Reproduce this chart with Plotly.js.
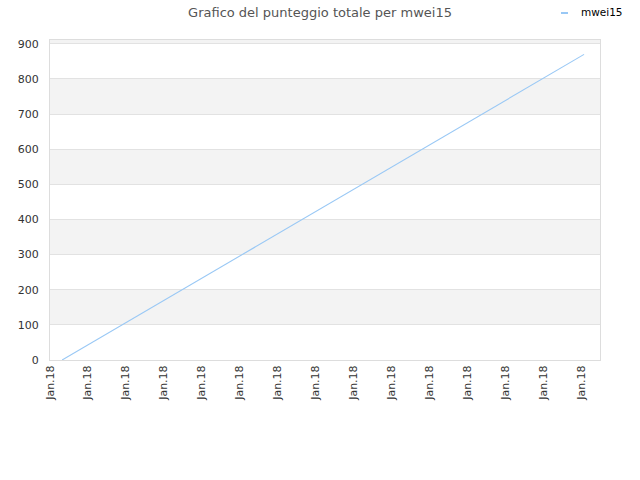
<!DOCTYPE html>
<html><head><meta charset="utf-8">
<script src="https://cdn.plot.ly/plotly-3.0.1.min.js"></script>
<style>body{margin:0}#c{width:640px;height:480px}</style>
</head><body><div id="c"></div>
<script>
var seriesName = "mwei15";
var xPos = [0.32, 1, 2, 3, 4, 5, 6, 7, 8, 9, 10, 11, 12, 13, 14, 14.08];
var scores = [0, 43, 107, 170, 233, 296, 359, 423, 486, 549, 612, 675, 739, 802, 865, 870];
var tickPos = [0,1,2,3,4,5,6,7,8,9,10,11,12,13,14];
var tickLabels = tickPos.map(function(){return "Jan.18";});
var yTicks = [0,100,200,300,400,500,600,700,800,900];
var lineColor = '#99c8f5';

var bands = [[100,200],[300,400],[500,600],[700,800],[900,911]];
var shapes = bands.map(function(b){
  return {type:'rect', xref:'paper', yref:'y', x0:0, x1:1, y0:b[0], y1:b[1],
    fillcolor:'#f3f3f3', line:{width:0}, layer:'below'};
});
// legend sample line
shapes.push({type:'line', xref:'paper', yref:'paper', x0:(561-50)/550, x1:(568-50)/550,
  y0:(360-13)/320, y1:(360-13)/320, line:{color:lineColor, width:2}});

var trace = {x:xPos, y:scores, type:'scatter', mode:'lines', name:seriesName,
  line:{color:lineColor, width:1.1}};

var layout = {
  width:640, height:480,
  margin:{l:50, r:40, t:40, b:120},
  paper_bgcolor:'#fff', plot_bgcolor:'#fff',
  font:{family:'DejaVu Sans, sans-serif', size:11, color:'#333'},
  title:{text:'Grafico del punteggio totale per mwei15', x:0.5, xanchor:'center', y:0.983, yanchor:'top',
    font:{size:13, color:'#555'}},
  showlegend:false,
  annotations:[{text:seriesName, xref:'paper', yref:'paper', x:(579-50)/550, y:(360-12)/320,
    xanchor:'left', yanchor:'middle', showarrow:false, font:{size:10.5, color:'#000'}}],
  xaxis:{range:[0,14.5], tickmode:'array', tickvals:tickPos, ticktext:tickLabels, tickangle:-90,
    showgrid:false, zeroline:false, showline:true, linecolor:'#dddddd', mirror:true,
    ticks:'', tickfont:{size:11, color:'#333'}},
  yaxis:{range:[0,911], tickmode:'array', tickvals:yTicks, showgrid:true, gridcolor:'#e2e2e2',
    zeroline:false, showline:true, linecolor:'#dddddd', mirror:true, ticks:'', ticklabelstandoff:8,
    tickfont:{size:11, color:'#333'}},
  shapes:shapes
};
Plotly.newPlot('c', [trace], layout, {displayModeBar:false, staticPlot:true});
</script></body></html>
